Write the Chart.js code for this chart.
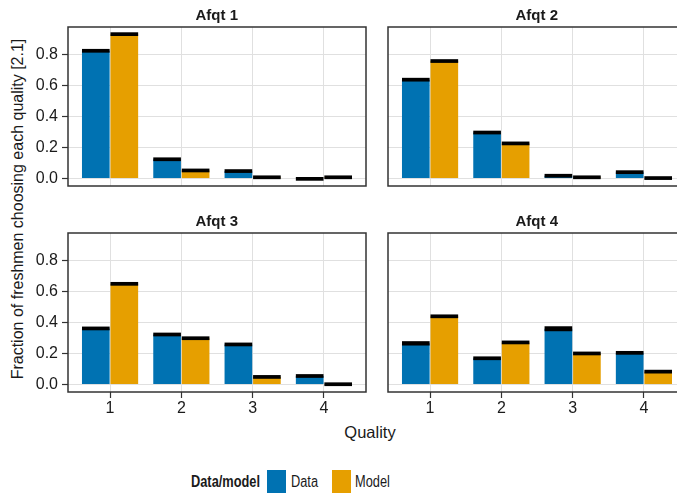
<!DOCTYPE html>
<html>
<head>
<meta charset="utf-8">
<script src="https://cdn.jsdelivr.net/npm/chart.js@4"></script>
<style>
  body { margin: 0; width: 677px; height: 495px; overflow: hidden; background: #fff; position: relative;
         font-family: 'Liberation Sans', Arial, sans-serif; color: #1a1a1a; }
  canvas { position: absolute; }
  .ptitle { position: absolute; font-weight: bold; font-size: 15px; transform: translate(-50%, -50%); white-space: nowrap; }
  #ytitle { position: absolute; left: 18px; top: 209px; font-size: 16px; white-space: nowrap;
            transform: translate(-50%, -50%) rotate(-90deg); }
  #xtitle { position: absolute; left: 370px; top: 432px; font-size: 16.5px; transform: translate(-50%, -50%); }
  .leg { position: absolute; top: 482px; font-size: 16px; white-space: nowrap;
         transform: translateY(-50%) scaleX(0.8); transform-origin: left center; }
  .box { position: absolute; top: 470px; width: 19px; height: 23px; }
</style>
</head>
<body>
<div id="ytitle">Fraction of freshmen choosing each quality [2.1]</div>
<div id="xtitle">Quality</div>
<div class="leg" style="left:191px;font-weight:bold">Data/model</div>
<div class="box" style="left:267px;background:#0072B2"></div>
<div class="leg" style="left:291px">Data</div>
<div class="box" style="left:332px;background:#E69F00"></div>
<div class="leg" style="left:355px">Model</div>

<script>
const categories = [1, 2, 3, 4];
const yTicks = [0, 0.2, 0.4, 0.6, 0.8];
const panelTitles = ['Afqt 1', 'Afqt 2', 'Afqt 3', 'Afqt 4'];

// share choosing each quality, per afqt group
const dataAfqt1 = [0.822, 0.124, 0.048, -0.002];
const modelAfqt1 = [0.929, 0.052, 0.008, 0.008];
const dataAfqt2 = [0.636, 0.296, 0.018, 0.041];
const modelAfqt2 = [0.756, 0.226, 0.008, 0.003];
const dataAfqt3 = [0.361, 0.322, 0.258, 0.055];
const modelAfqt3 = [0.648, 0.298, 0.049, 0.002];
const dataAfqt4 = [0.265, 0.169, 0.359, 0.204];
const modelAfqt4 = [0.439, 0.271, 0.200, 0.083];

// half width of the black bands
const dataErr1 = [0.012, 0.012, 0.012, 0.012];
const modelErr1 = [0.012, 0.012, 0.012, 0.012];
const dataErr2 = [0.012, 0.012, 0.012, 0.012];
const modelErr2 = [0.012, 0.012, 0.012, 0.012];
const dataErr3 = [0.012, 0.012, 0.012, 0.012];
const modelErr3 = [0.012, 0.012, 0.012, 0.012];
const dataErr4 = [0.014, 0.012, 0.016, 0.012];
const modelErr4 = [0.012, 0.012, 0.012, 0.012];

const BLUE = '#0072B2';
const ORANGE = '#E69F00';

Chart.defaults.font.family = "'Liberation Sans', Arial, sans-serif";
Chart.defaults.color = '#1a1a1a';

const frame = {
    id: 'frame',
    afterDatasetsDraw(chart) {
        const a = chart.chartArea;
        const ctx = chart.ctx;
        ctx.save();
        ctx.strokeStyle = '#333';
        ctx.lineWidth = 1.5;
        ctx.strokeRect(a.left, a.top, a.right - a.left, a.bottom - a.top);
        ctx.restore();
    }
};

function makePanel(idx, plotLeft, plotTop, showX, showY, dataVals, dataErr, modelVals, modelErr) {
    const plotW = 298.5, plotH = 159, padTop = 20, axW = 60, axH = 30, padRight = 10;
    const canvas = document.createElement('canvas');
    const w = axW + plotW + padRight, h = padTop + plotH + axH;
    canvas.width = w; canvas.height = h;
    canvas.style.left = (plotLeft - axW) + 'px';
    canvas.style.top = (plotTop - padTop) + 'px';
    canvas.style.width = w + 'px'; canvas.style.height = h + 'px';
    document.body.appendChild(canvas);

    const t = document.createElement('div');
    t.className = 'ptitle';
    t.textContent = panelTitles[idx];
    t.style.left = (plotLeft + plotW / 2) + 'px';
    t.style.top = (plotTop - 13) + 'px';
    document.body.appendChild(t);

    const pts = (vals) => categories.map((c, i) => ({x: c, y: vals[i]}));
    const band = (vals, err) => categories.map((c, i) => ({x: c, y: [vals[i] - err[i], vals[i] + err[i]]}));

    // bands come first: chart.js paints the first dataset last, so they end up on top
    new Chart(canvas.getContext('2d'), {
        type: 'bar',
        data: {
            datasets: [
                {label: 'Data band', data: band(dataVals, dataErr), backgroundColor: '#000', borderWidth: 0, stack: 'd'},
                {label: 'Model band', data: band(modelVals, modelErr), backgroundColor: '#000', borderWidth: 0, stack: 'm'},
                {label: 'Data', data: pts(dataVals), backgroundColor: BLUE, stack: 'd'},
                {label: 'Model', data: pts(modelVals), backgroundColor: ORANGE, stack: 'm'}
            ]
        },
        options: {
            responsive: false,
            animation: false,
            layout: {padding: {top: padTop, right: padRight, left: 0, bottom: 0}},
            datasets: {bar: {barPercentage: 0.97, categoryPercentage: 0.8}},
            plugins: {legend: {display: false}, title: {display: false}, tooltip: {enabled: false}},
            scales: {
                x: {
                    type: 'linear',
                    min: 0.41, max: 4.59,
                    offset: false,
                    afterBuildTicks: (s) => { s.ticks = categories.map(v => ({value: v})); },
                    afterFit: (s) => { s.height = axH; },
                    grid: {offset: false, color: '#e0e0e0', drawTicks: showX, tickLength: 6, tickColor: '#333', tickWidth: 1.2},
                    border: {display: false},
                    ticks: {display: showX, padding: 1, font: {size: 16}, callback: (v) => String(v)}
                },
                y: {
                    min: -0.048, max: 0.975,
                    stacked: false,
                    afterBuildTicks: (s) => { s.ticks = yTicks.map(v => ({value: v})); },
                    afterFit: (s) => { s.width = axW; },
                    grid: {color: '#e0e0e0', drawTicks: showY, tickLength: 6, tickColor: '#333', tickWidth: 1.2},
                    border: {display: false},
                    ticks: {display: showY, padding: 4, font: {size: 16}, callback: (v) => v.toFixed(1)}
                }
            }
        },
        plugins: [frame]
    });
}

makePanel(0, 67.5, 27, false, true, dataAfqt1, dataErr1, modelAfqt1, modelErr1);
makePanel(1, 387.5, 27, false, false, dataAfqt2, dataErr2, modelAfqt2, modelErr2);
makePanel(2, 67.5, 232.5, true, true, dataAfqt3, dataErr3, modelAfqt3, modelErr3);
makePanel(3, 387.5, 232.5, true, false, dataAfqt4, dataErr4, modelAfqt4, modelErr4);
</script>
</body>
</html>
